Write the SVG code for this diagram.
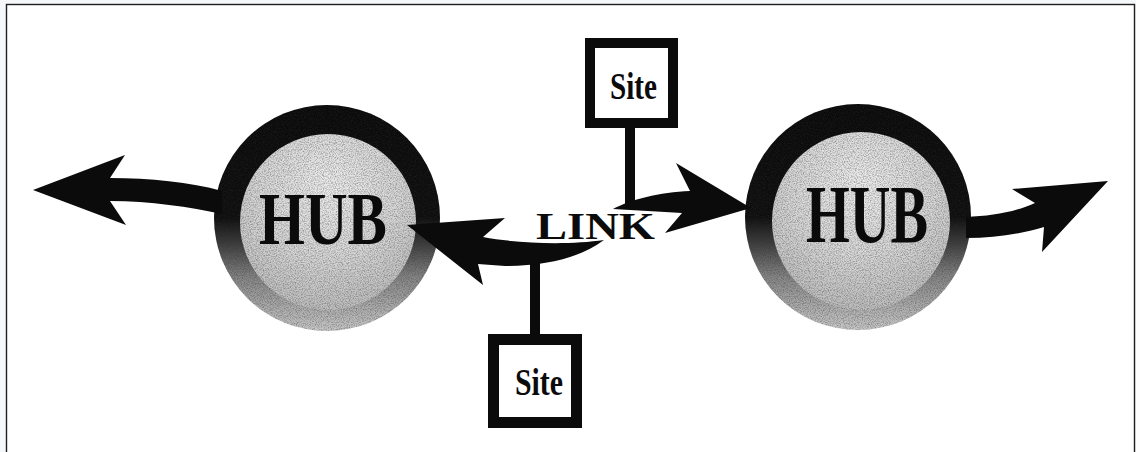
<svg xmlns="http://www.w3.org/2000/svg" width="1136" height="452" viewBox="0 0 1136 452">
  <style>
    .frame { fill: #ffffff; stroke: #1e1e1e; stroke-width: 1.4; }
    .hub-label { font-family: "Liberation Serif", "Times New Roman", serif; font-weight: bold; fill: #0b0b0b; }
    .site-box { fill: #ffffff; stroke: #0b0b0b; }
    .site-label { font-family: "Liberation Serif", "Times New Roman", serif; font-weight: bold; font-size: 37px; fill: #0b0b0b; }
    .link-label { font-family: "Liberation Serif", "Times New Roman", serif; font-weight: bold; font-size: 37px; fill: #0b0b0b; }
    .arrow { fill: #0b0b0b; }
    .stem { fill: #0b0b0b; }
  </style>
  <defs>
    <!-- dark ring fading to grey towards the bottom, like a lit sphere -->
    <linearGradient id="ringShade" x1="0" y1="0" x2="0" y2="1">
      <stop offset="0" stop-color="#0a0a0a"/>
      <stop offset="0.5" stop-color="#0e0e0e"/>
      <stop offset="0.62" stop-color="#404040"/>
      <stop offset="0.76" stop-color="#848484"/>
      <stop offset="0.9" stop-color="#adadad"/>
      <stop offset="1" stop-color="#c8c8c8"/>
    </linearGradient>
    <radialGradient id="discShade" cx="0.5" cy="0.3" r="0.8">
      <stop offset="0" stop-color="#ececec"/>
      <stop offset="0.5" stop-color="#d6d6d6"/>
      <stop offset="1" stop-color="#b4b4b4"/>
    </radialGradient>
    <!-- halftone-like dark speckle, kept inside the shape it is applied to -->
    <filter id="grain" x="0" y="0" width="1" height="1">
      <feTurbulence type="fractalNoise" baseFrequency="0.85" numOctaves="2" seed="7" result="noise"/>
      <feColorMatrix in="noise" type="matrix" values="0 0 0 0 0.03  0 0 0 0 0.03  0 0 0 0 0.03  2.4 0 0 0 -0.95" result="speck"/>
      <feComposite in="speck" in2="SourceGraphic" operator="in"/>
    </filter>
  </defs>

  <rect x="0" y="0" width="1136" height="452" fill="#f6f7f9"/>
  <rect class="frame" x="6.5" y="4.5" width="1128" height="460"/>

  <!-- left hub -->
  <g id="hub-left">
    <circle cx="327" cy="218" r="113" fill="url(#ringShade)"/>
    <circle cx="328" cy="222" r="88" fill="url(#discShade)"/>
    <circle cx="327" cy="218" r="113" fill="#000" filter="url(#grain)" opacity="0.4"/>
    <text class="hub-label" x="259" y="244" font-size="74" textLength="128" lengthAdjust="spacingAndGlyphs">HUB</text>
  </g>

  <!-- right hub -->
  <g id="hub-right">
    <circle cx="858" cy="217" r="113" fill="url(#ringShade)"/>
    <circle cx="861" cy="221" r="89" fill="url(#discShade)"/>
    <circle cx="858" cy="217" r="113" fill="#000" filter="url(#grain)" opacity="0.4"/>
    <text class="hub-label" x="806" y="242" font-size="82" textLength="122" lengthAdjust="spacingAndGlyphs">HUB</text>
  </g>

  <!-- sites -->
  <g id="site-top">
    <rect class="site-box" x="590" y="43" width="83" height="80" stroke-width="10"/>
    <text class="site-label" x="610" y="99" textLength="47" lengthAdjust="spacingAndGlyphs">Site</text>
  </g>
  <g id="site-bottom">
    <rect class="site-box" x="493.5" y="339.5" width="83" height="83" stroke-width="11"/>
    <text class="site-label" x="515" y="395" textLength="48" lengthAdjust="spacingAndGlyphs">Site</text>
  </g>

  <!-- connectors: outgoing arrows, the link between hubs and the site drops -->
  <g id="connectors">
    <path class="arrow" d="M33,190 L125,155 L110,178 C150,178 190,182 222,191 L222,214 C190,207 150,201 110,201 L126,225 Z"/>
    <path class="arrow" d="M966,217 C992,216 1015,212 1035,203 L1012,189 L1108,181 L1042,252 L1044,227 C1020,234 995,238 966,238 Z"/>
    <rect class="stem" x="625" y="126" width="10" height="80"/>
    <rect class="stem" x="530" y="260" width="10" height="76"/>
    <path class="arrow" d="M407,225 L505,218 L483,237 C520,244 570,245 604,240 C580,258 545,266 505,266 L478,264 L483,285 Z"/>
    <path class="arrow" d="M613,209 C630,200 660,192 690,191 L676,163 L751,208 L665,233 L682,213 C660,212 635,210 613,209 Z"/>
    <text id="link-label" class="link-label" x="536" y="239" textLength="119" lengthAdjust="spacingAndGlyphs">LINK</text>
  </g>
</svg>
